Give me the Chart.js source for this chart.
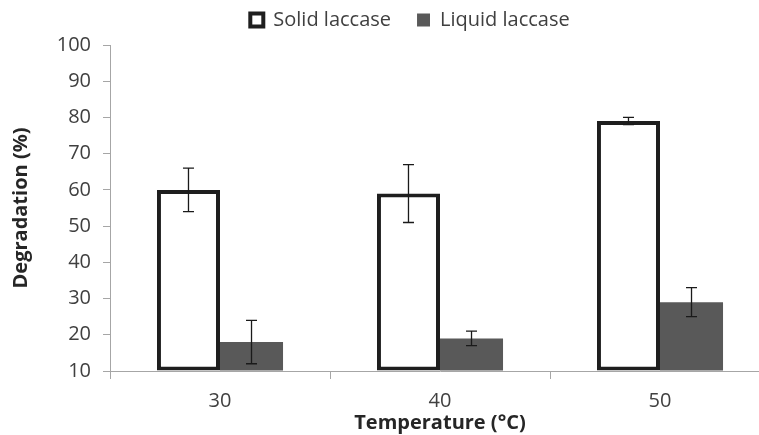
<!DOCTYPE html>
<html>
<head>
<meta charset="utf-8">
<script src="https://cdn.jsdelivr.net/npm/chart.js@4.4.1/dist/chart.umd.min.js"></script>
<style>
  html, body { margin: 0; padding: 0; background: #fff; overflow: hidden; }
  #wrap { width: 820px; height: 435px; }
</style>
</head>
<body>
<div id="wrap"><canvas id="chart"></canvas></div>
<script>
// data
const temps = ["30", "40", "50"];
const solid = [60, 59, 79];
const solidErr = [6, 8, 1];
const liquid = [18, 19, 29];
const liquidErr = [6, 2, 4];
const yTicks = { min: 10, max: 100, step: 10 };

const TXT = "#404040";
const AXIS = "#a6a6a6";

// error bars drawn from the bar elements and the y scale
const errorBars = {
  id: "errorBars",
  afterDatasetsDraw(chart) {
    const ctx = chart.ctx;
    const y = chart.scales.y;
    ctx.save();
    ctx.strokeStyle = "#1a1a1a";
    ctx.lineWidth = 1.3;
    chart.data.datasets.forEach((ds, i) => {
      const meta = chart.getDatasetMeta(i);
      meta.data.forEach((bar, j) => {
        const v = ds.data[j], e = ds.errors[j];
        const top = y.getPixelForValue(v + e);
        const bot = y.getPixelForValue(v - e);
        ctx.beginPath();
        ctx.moveTo(bar.x, top); ctx.lineTo(bar.x, bot);
        ctx.moveTo(bar.x - 5.5, top); ctx.lineTo(bar.x + 5.5, top);
        ctx.moveTo(bar.x - 5.5, bot); ctx.lineTo(bar.x + 5.5, bot);
        ctx.stroke();
      });
    });
    ctx.restore();
  }
};

// a little more room under the legend
const legendGap = {
  id: "legendGap",
  beforeInit(chart) {
    const fit = chart.legend.fit;
    chart.legend.fit = function () {
      fit.call(this);
      this.height += 5;
    };
  }
};

new Chart(document.getElementById("chart"), {
  type: "bar",
  data: {
    labels: temps,
    datasets: [
      {
        label: "Solid laccase",
        data: solid,
        errors: solidErr,
        base: yTicks.min,
        backgroundColor: "#ffffff",
        borderColor: "#1e1e1e",
        borderWidth: 4,
        borderSkipped: false
      },
      {
        label: "Liquid laccase",
        data: liquid,
        errors: liquidErr,
        base: yTicks.min,
        backgroundColor: "#595959",
        borderWidth: 0
      }
    ]
  },
  options: {
    responsive: true,
    maintainAspectRatio: false,
    animation: false,
    layout: { padding: { top: -16, right: 50, left: 50, bottom: 0 } },
    datasets: { bar: { categoryPercentage: 0.573, barPercentage: 1 } },
    plugins: {
      tooltip: { enabled: false },
      legend: {
        position: "top",
        labels: {
          color: TXT,
          font: { family: "Open Sans", size: 20 },
          boxWidth: 13,
          boxHeight: 13,
          padding: 26
        }
      }
    },
    scales: {
      x: {
        grid: { drawOnChartArea: false, color: AXIS, tickLength: 8, offset: true },
        border: { color: AXIS },
        ticks: { color: TXT, font: { family: "Open Sans", size: 20 }, padding: 10 },
        title: {
          display: true,
          text: "Temperature (°C)",
          color: "#262626",
          font: { family: "Open Sans", size: 20, weight: "bold" },
          padding: { top: 0, bottom: 0 }
        },
        afterFit(s) { s.height = 64; }
      },
      y: {
        min: yTicks.min,
        max: yTicks.max,
        ticks: { stepSize: yTicks.step, color: TXT, font: { family: "Open Sans", size: 20 }, padding: 12 },
        grid: { drawOnChartArea: false, color: AXIS, tickLength: 7 },
        border: { color: AXIS },
        title: {
          display: true,
          text: "Degradation (%)",
          color: "#262626",
          font: { family: "Open Sans", size: 20, weight: "bold" },
          padding: { top: -41, bottom: 0 }
        },
        afterFit(s) { s.width = 60; }
      }
    }
  },
  plugins: [errorBars, legendGap]
});
</script>
</body>
</html>
